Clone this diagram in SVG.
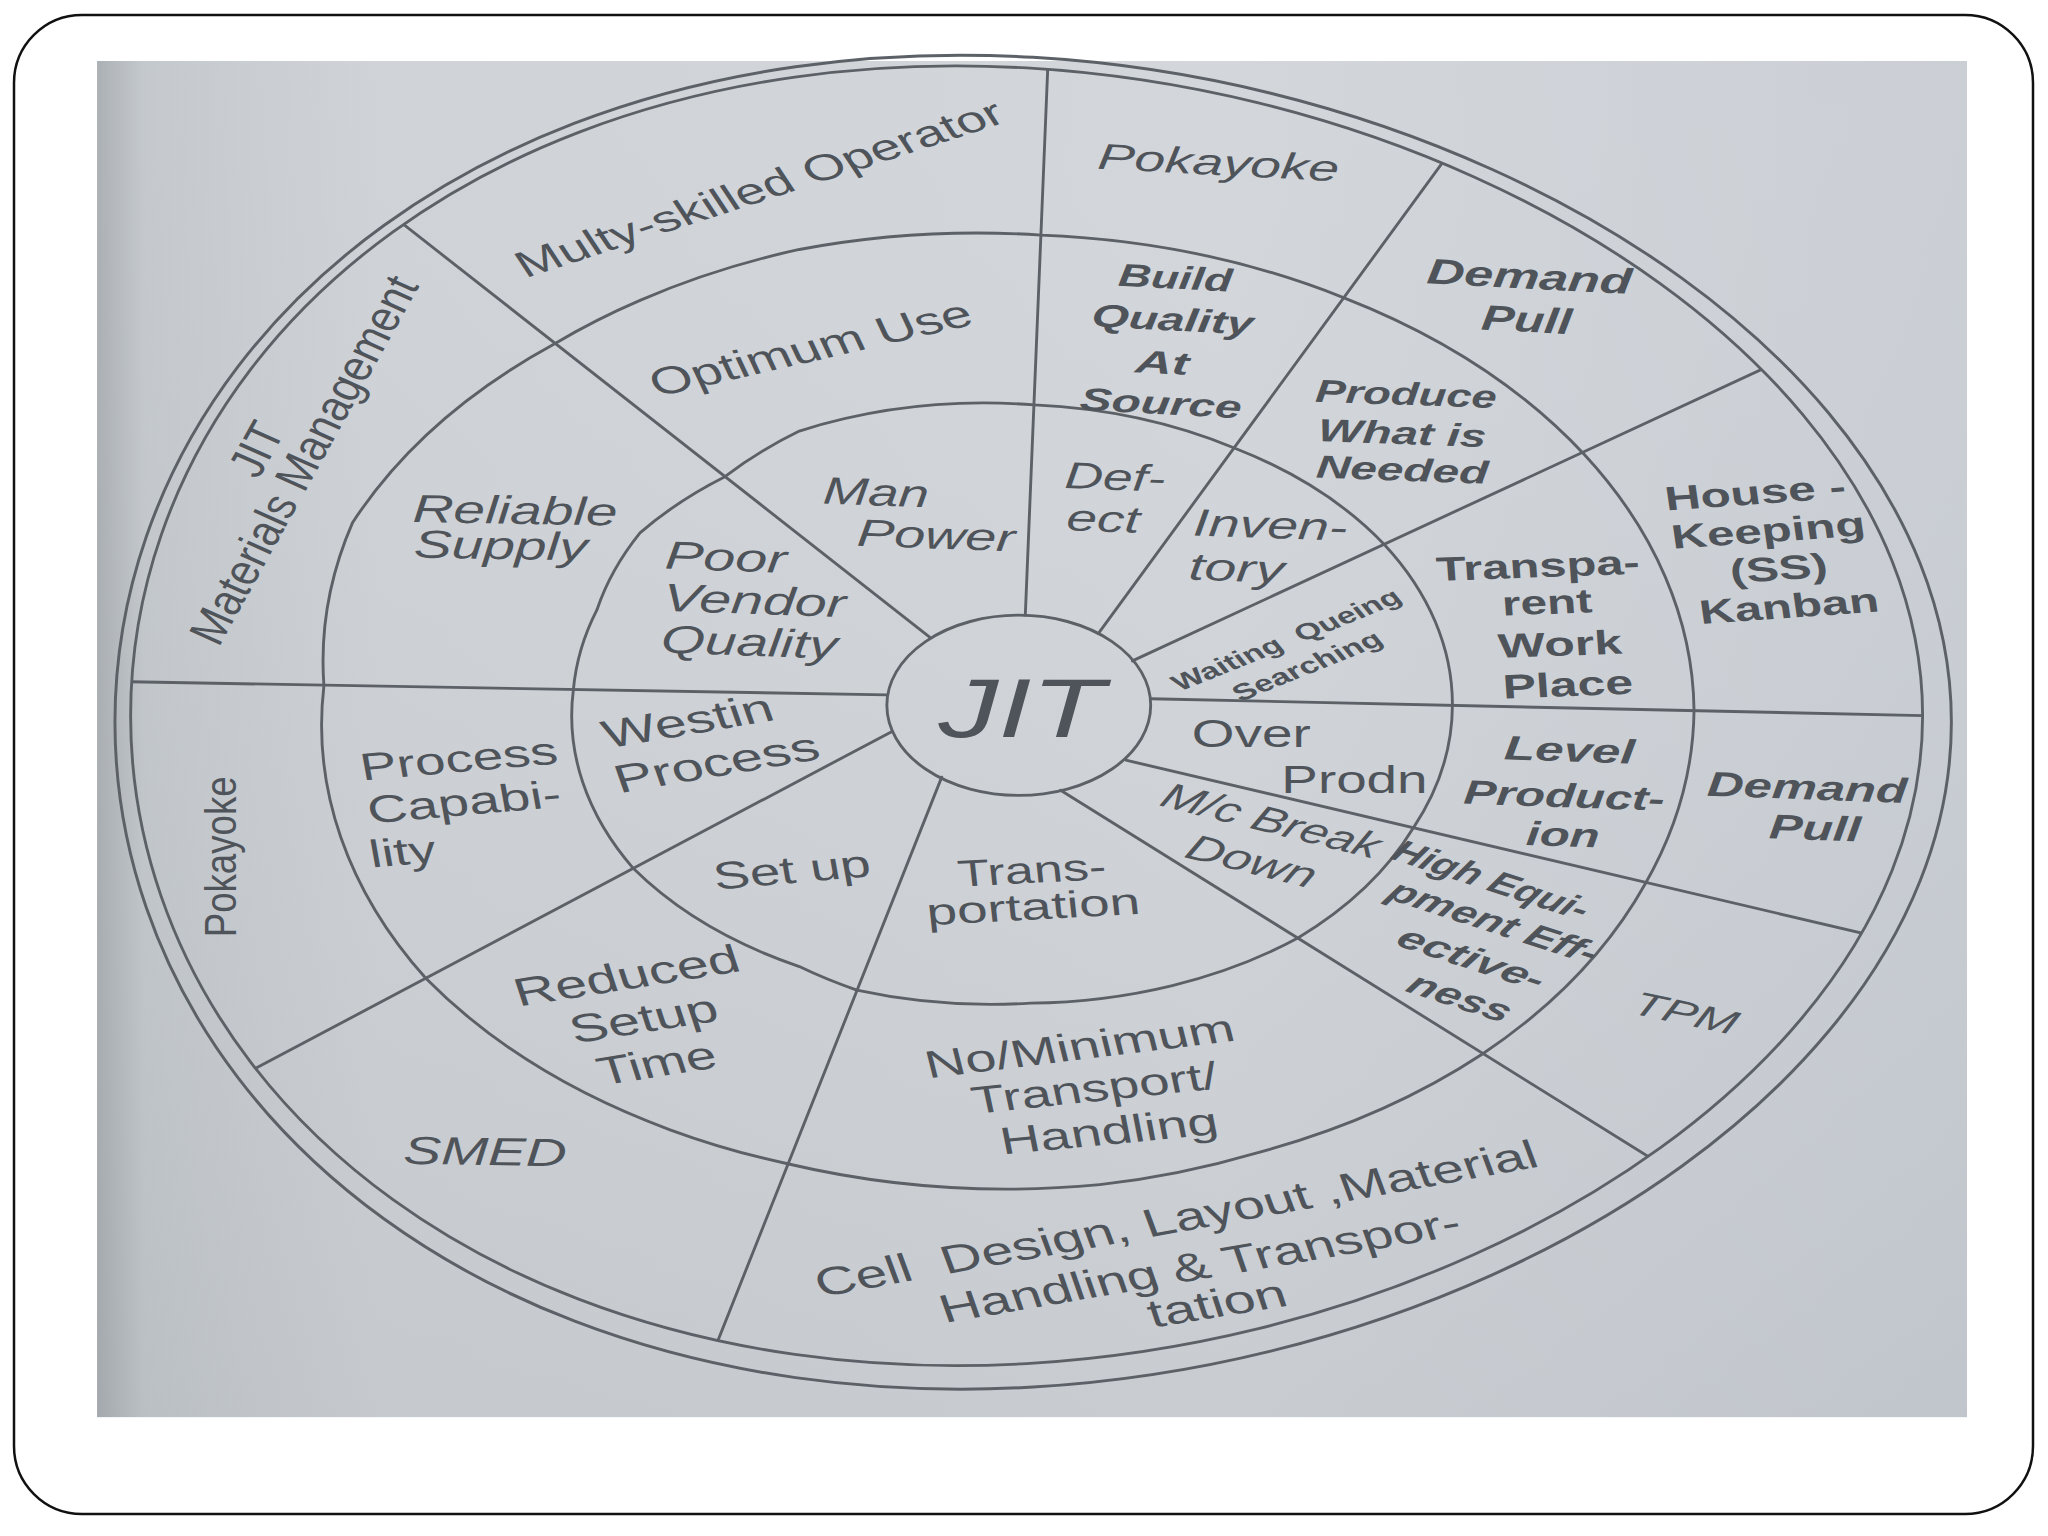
<svg xmlns="http://www.w3.org/2000/svg" width="2048" height="1536" viewBox="0 0 2048 1536">
<style>
.ln{fill:none;stroke:#5c6167;stroke-width:2.2;stroke-linejoin:round;stroke-linecap:round}
.t{font-family:"Liberation Sans",Arial,Helvetica,sans-serif;fill:#4f545a;text-anchor:middle}
.i{font-style:italic}
.b{font-weight:bold}
.pre{white-space:pre}
</style>
<defs>
<linearGradient id="bg" x1="0" y1="0" x2="1" y2="0">
<stop offset="0" stop-color="#a7acb1"/>
<stop offset="0.025" stop-color="#c1c6cb"/>
<stop offset="0.15" stop-color="#cdd1d6"/>
<stop offset="0.6" stop-color="#d1d5da"/>
<stop offset="1" stop-color="#c8cdd3"/>
</linearGradient>
<linearGradient id="shade" x1="0" y1="0" x2="0" y2="1">
<stop offset="0" stop-color="#ffffff" stop-opacity="0.05"/>
<stop offset="1" stop-color="#8a9096" stop-opacity="0.12"/>
</linearGradient>
<path id="ringpath" d="M1472 548 C1472 587.8 1464.1 627.7 1448.6 666.5 C1433.1 705.3 1410 743.1 1380.1 778.8 C1350.2 814.6 1313.4 848.3 1271.1 878.9 C1228.8 909.5 1180.9 936.9 1129 960.3 C1077.2 983.7 1021.3 1003 963.5 1017.2 C905.7 1031.4 845.9 1040.5 786 1044 C726.1 1047.5 666.3 1045.2 608.5 1037 C550.7 1028.8 494.9 1014.6 443 994.7 C391.2 974.8 343.2 949.1 300.9 918.5 C258.6 887.9 221.8 852.4 191.9 813.2 C162 774 138.9 731.1 123.4 686.3 C107.9 641.5 100 594.7 100 548 C100 501.3 107.9 454.5 123.4 409.7 C138.9 364.9 162 322 191.9 282.8 C221.8 243.6 258.6 208.1 300.9 177.5 C343.2 146.9 391.2 121.2 443 101.3 C494.9 81.4 550.7 67.2 608.5 59 C666.3 50.8 726.1 48.5 786 52 C845.9 55.5 905.7 64.6 963.5 78.8 C1021.3 93 1077.2 112.3 1129 135.7 C1180.9 159.1 1228.8 186.5 1271.1 217.1 C1313.4 247.7 1350.2 281.5 1380.1 317.2 C1410 353 1433.1 390.7 1448.6 429.5 C1464.1 468.3 1472 508.2 1472 548 Z"/>
<clipPath id="inside">
<use href="#ringpath"/>
</clipPath>
</defs>
<rect x="0" y="0" width="2048" height="1536" fill="#ffffff"/>
<rect x="14" y="15" width="2019" height="1499" rx="68" ry="68" fill="none" stroke="#111" stroke-width="2.5"/>
<g transform="scale(1.306122)">
<rect x="74.3" y="46.7" width="1431.7" height="1038.3" fill="url(#bg)"/>
<rect x="74.3" y="46.7" width="1431.7" height="1038.3" fill="url(#shade)"/>

<g id="rings" class="ln">
<use id="ring-outer-b" href="#ringpath"/>
<use id="ring-outer-a" href="#ringpath" transform="matrix(1.0248 0 0 1.0263 -14.48 -9.5)"/>
<path id="ring-middle" d="M425 263 A525 366 0 0 1 490 230 A525 366 0 0 1 612 191 A525 366 0 0 1 797 180 A525 366 0 0 1 1029 228 A525 366 0 0 1 1213 348 A525 366 0 0 1 1297 544 A525 366 0 0 1 1260 676 A525 366 0 0 1 1135 807 A525 366 0 0 1 961 883 A525 366 0 0 1 842 907 A525 366 0 0 1 603 891 A525 366 0 0 1 513 865 A525 366 0 0 1 326 749 A525 366 0 0 1 248 525 A525 366 0 0 1 270 400 A525 366 0 0 1 425 263 Z"/>
<path id="ring-inner" d="M555 365 A337 229 0 0 1 612 330 A337 229 0 0 1 792 310 A337 229 0 0 1 945 343 A337 229 0 0 1 1060 417 A337 229 0 0 1 1112 540 A337 229 0 0 1 1082 634 A337 229 0 0 1 994 718 A337 229 0 0 1 789 768 A337 229 0 0 1 656 758 A337 229 0 0 1 612 740 A337 229 0 0 1 485 665 A337 229 0 0 1 439 528 A337 229 0 0 1 457 467 A337 229 0 0 1 490 408 A337 229 0 0 1 555 365 Z"/>
</g>

<g id="connectors" class="ln" clip-path="url(#inside)">
<line x1="785" y1="471" x2="803.5" y2="20"/>
<line x1="841" y1="485" x2="1138.9" y2="77.3"/>
<line x1="867" y1="506" x2="1415.8" y2="251.8"/>
<line x1="881" y1="535" x2="1520.4" y2="549"/>
<line x1="862" y1="582" x2="1484.6" y2="728.3"/>
<line x1="812" y1="605" x2="1311.4" y2="916.3"/>
<line x1="721" y1="595" x2="534" y2="1065.8"/>
<line x1="683" y1="560" x2="138.5" y2="848.2"/>
<line x1="679" y1="532" x2="53.7" y2="521.2"/>
<line x1="712" y1="488" x2="259.5" y2="133"/>
</g>

<g id="node-jit">
<ellipse class="ln" cx="780" cy="540" rx="101" ry="69"/>
<text class="t i" font-size="92" transform="translate(782 564) scale(1 .7)" textLength="127" lengthAdjust="spacingAndGlyphs">JIT</text>
</g>

<!-- inner band -->
<g id="node-man-power">
<text class="t i" font-size="42" transform="translate(670 387) scale(1 .7) rotate(2.9)" textLength="81" lengthAdjust="spacingAndGlyphs">Man</text>
<text class="t i" font-size="42" transform="translate(716 420) scale(1 .7) rotate(2.9)" textLength="121" lengthAdjust="spacingAndGlyphs">Power</text>
</g>
<g id="node-defect">
<text class="t i" font-size="41" transform="translate(853 375) scale(1 .7) rotate(2.9)" textLength="77" lengthAdjust="spacingAndGlyphs">Def-</text>
<text class="t i" font-size="41" transform="translate(844 407) scale(1 .7) rotate(2.9)" textLength="56" lengthAdjust="spacingAndGlyphs">ect</text>
</g>
<g id="node-inventory">
<text class="t i" font-size="42" transform="translate(972 412) scale(1 .7) rotate(2.9)" textLength="118" lengthAdjust="spacingAndGlyphs">Inven-</text>
<text class="t i" font-size="42" transform="translate(946 445) scale(1 .7) rotate(2.9)" textLength="73" lengthAdjust="spacingAndGlyphs">tory</text>
</g>
<g id="node-waiting">
<text class="t b pre" xml:space="preserve" font-size="25" transform="translate(989 495) scale(1 .7) rotate(-30)" textLength="198" lengthAdjust="spacingAndGlyphs">Waiting  Queing</text>
<text class="t b" font-size="25" transform="translate(1005 515) scale(1 .7) rotate(-30)" textLength="128" lengthAdjust="spacingAndGlyphs">Searching</text>
</g>
<g id="node-over-prodn">
<text class="t" font-size="42" transform="translate(958 572) scale(1 .7)" textLength="91" lengthAdjust="spacingAndGlyphs">Over</text>
<text class="t" font-size="42" transform="translate(1037 607) scale(1 .7)" textLength="112" lengthAdjust="spacingAndGlyphs">Prodn</text>
</g>
<g id="node-mc-breakdown">
<text class="t i" font-size="39" transform="translate(969 637) scale(1 .7) rotate(19.6)" textLength="175" lengthAdjust="spacingAndGlyphs">M/c Break</text>
<text class="t i" font-size="39" transform="translate(954 668) scale(1 .7) rotate(19.6)" textLength="103" lengthAdjust="spacingAndGlyphs">Down</text>
</g>
<g id="node-transportation">
<text class="t" font-size="41" transform="translate(791 676) scale(1 .7) rotate(-4.3)" textLength="114" lengthAdjust="spacingAndGlyphs">Trans-</text>
<text class="t" font-size="41" transform="translate(792 704) scale(1 .7) rotate(-4.3)" textLength="164" lengthAdjust="spacingAndGlyphs">portation</text>
</g>
<g id="node-set-up">
<text class="t" font-size="42" transform="translate(608 676) scale(1 .7) rotate(-7.1)" textLength="121" lengthAdjust="spacingAndGlyphs">Set up</text>
</g>
<g id="node-westin-process">
<text class="t" font-size="43" transform="translate(530 562) scale(1 .7) rotate(-13.7)" textLength="133" lengthAdjust="spacingAndGlyphs">Westin</text>
<text class="t" font-size="43" transform="translate(552 594) scale(1 .7) rotate(-13.7)" textLength="160" lengthAdjust="spacingAndGlyphs">Process</text>
</g>
<g id="node-poor-vendor">
<text class="t i" font-size="43" transform="translate(555 437) scale(1 .7) rotate(2.9)" textLength="93" lengthAdjust="spacingAndGlyphs">Poor</text>
<text class="t i" font-size="43" transform="translate(577 470) scale(1 .7) rotate(2.9)" textLength="140" lengthAdjust="spacingAndGlyphs">Vendor</text>
<text class="t i" font-size="43" transform="translate(573 502) scale(1 .7) rotate(2.9)" textLength="135" lengthAdjust="spacingAndGlyphs">Quality</text>
</g>

<!-- middle band -->
<g id="node-optimum-use">
<text class="t" font-size="42" transform="translate(625 276) scale(1 .7) rotate(-18.1)" textLength="257" lengthAdjust="spacingAndGlyphs">Optimum Use</text>
</g>
<g id="node-build-quality">
<text class="t b i" font-size="35" transform="translate(899 221) scale(1 .7) rotate(4.3)" textLength="87" lengthAdjust="spacingAndGlyphs">Build</text>
<text class="t b i" font-size="35" transform="translate(897 253) scale(1 .7) rotate(4.3)" textLength="124" lengthAdjust="spacingAndGlyphs">Quality</text>
<text class="t b i" font-size="35" transform="translate(889 286) scale(1 .7) rotate(4.3)" textLength="41" lengthAdjust="spacingAndGlyphs">At</text>
<text class="t b i" font-size="35" transform="translate(888 317) scale(1 .7) rotate(4.3)" textLength="124" lengthAdjust="spacingAndGlyphs">Source</text>
</g>
<g id="node-produce-needed">
<text class="t b i" font-size="35" transform="translate(1076 310) scale(1 .7) rotate(2.9)" textLength="139" lengthAdjust="spacingAndGlyphs">Produce</text>
<text class="t b i" font-size="35" transform="translate(1073 340) scale(1 .7) rotate(2.9)" textLength="129" lengthAdjust="spacingAndGlyphs">What is</text>
<text class="t b i" font-size="35" transform="translate(1073 368) scale(1 .7) rotate(2.9)" textLength="132" lengthAdjust="spacingAndGlyphs">Needed</text>
</g>
<g id="node-transparent-workplace">
<text class="t b" font-size="37" transform="translate(1178 442) scale(1 .7) rotate(-2.9)" textLength="156" lengthAdjust="spacingAndGlyphs">Transpa-</text>
<text class="t b" font-size="37" transform="translate(1185 470) scale(1 .7) rotate(-2.9)" textLength="69" lengthAdjust="spacingAndGlyphs">rent</text>
<text class="t b" font-size="37" transform="translate(1195 502) scale(1 .7) rotate(-2.9)" textLength="95" lengthAdjust="spacingAndGlyphs">Work</text>
<text class="t b" font-size="37" transform="translate(1201 533) scale(1 .7) rotate(-2.9)" textLength="100" lengthAdjust="spacingAndGlyphs">Place</text>
</g>
<g id="node-level-production">
<text class="t b i" font-size="37" transform="translate(1201 583) scale(1 .7) rotate(2.9)" textLength="100" lengthAdjust="spacingAndGlyphs">Level</text>
<text class="t b i" font-size="37" transform="translate(1197 618) scale(1 .7) rotate(2.9)" textLength="154" lengthAdjust="spacingAndGlyphs">Product-</text>
<text class="t b i" font-size="37" transform="translate(1196 648) scale(1 .7) rotate(2.9)" textLength="56" lengthAdjust="spacingAndGlyphs">ion</text>
</g>
<g id="node-high-equipment">
<text class="t b i" font-size="34" transform="translate(1137 681) scale(1 .7) rotate(24.9)" textLength="162" lengthAdjust="spacingAndGlyphs">High Equi-</text>
<text class="t b i" font-size="34" transform="translate(1139 713) scale(1 .7) rotate(24.9)" textLength="173" lengthAdjust="spacingAndGlyphs">pment Eff-</text>
<text class="t b i" font-size="34" transform="translate(1122 741) scale(1 .7) rotate(24.9)" textLength="121" lengthAdjust="spacingAndGlyphs">ective-</text>
<text class="t b i" font-size="34" transform="translate(1113 771) scale(1 .7) rotate(24.9)" textLength="84" lengthAdjust="spacingAndGlyphs">ness</text>
</g>
<g id="node-no-minimum-transport">
<text class="t" font-size="42" transform="translate(829 811) scale(1 .7) rotate(-9.95)" textLength="240" lengthAdjust="spacingAndGlyphs">No/Minimum</text>
<text class="t" font-size="42" transform="translate(840 843) scale(1 .7) rotate(-8.5)" textLength="190" lengthAdjust="spacingAndGlyphs">Transport/</text>
<text class="t" font-size="42" transform="translate(851 876) scale(1 .7) rotate(-7.8)" textLength="168" lengthAdjust="spacingAndGlyphs">Handling</text>
</g>
<g id="node-reduced-setup">
<text class="t" font-size="43" transform="translate(483 757) scale(1 .7) rotate(-12.8)" textLength="176" lengthAdjust="spacingAndGlyphs">Reduced</text>
<text class="t" font-size="43" transform="translate(496 790) scale(1 .7) rotate(-12.8)" textLength="115" lengthAdjust="spacingAndGlyphs">Setup</text>
<text class="t" font-size="43" transform="translate(506 824) scale(1 .7) rotate(-12.8)" textLength="92" lengthAdjust="spacingAndGlyphs">Time</text>
</g>
<g id="node-process-capability">
<text class="t" font-size="42" transform="translate(353 591) scale(1 .7) rotate(-7.1)" textLength="152" lengthAdjust="spacingAndGlyphs">Process</text>
<text class="t" font-size="42" transform="translate(357 624) scale(1 .7) rotate(-7.1)" textLength="149" lengthAdjust="spacingAndGlyphs">Capabi-</text>
<text class="t" font-size="42" transform="translate(310 662) scale(1 .7) rotate(-7.1)" textLength="51" lengthAdjust="spacingAndGlyphs">lity</text>
</g>
<g id="node-reliable-supply">
<text class="t i" font-size="43" transform="translate(394 401) scale(1 .7) rotate(1.4)" textLength="157" lengthAdjust="spacingAndGlyphs">Reliable</text>
<text class="t i" font-size="43" transform="translate(383 428) scale(1 .7) rotate(1.4)" textLength="133" lengthAdjust="spacingAndGlyphs">Supply</text>
</g>

<!-- outer band -->
<g id="node-multy-skilled">
<text class="t" font-size="40" transform="translate(587 153) scale(1 .7) rotate(-24.9)" textLength="407" lengthAdjust="spacingAndGlyphs">Multy-skilled Operator</text>
</g>
<g id="node-pokayoke-top">
<text class="t i" font-size="40" transform="translate(932 134) scale(1 .7) rotate(4.3)" textLength="185" lengthAdjust="spacingAndGlyphs">Pokayoke</text>
</g>
<g id="node-demand-pull-top">
<text class="t b i" font-size="39" transform="translate(1170 221) scale(1 .7) rotate(4.3)" textLength="157" lengthAdjust="spacingAndGlyphs">Demand</text>
<text class="t b i" font-size="39" transform="translate(1168 254) scale(1 .7) rotate(4.3)" textLength="69" lengthAdjust="spacingAndGlyphs">Pull</text>
</g>
<g id="node-house-keeping">
<text class="t b" font-size="37" transform="translate(1345 386) scale(1 .7) rotate(-5.7)" textLength="139" lengthAdjust="spacingAndGlyphs">House -</text>
<text class="t b" font-size="37" transform="translate(1355 415) scale(1 .7) rotate(-5.7)" textLength="149" lengthAdjust="spacingAndGlyphs">Keeping</text>
<text class="t b" font-size="37" transform="translate(1363 444) scale(1 .7) rotate(-5.7)" textLength="75" lengthAdjust="spacingAndGlyphs">(SS)</text>
<text class="t b" font-size="37" transform="translate(1371 473) scale(1 .7) rotate(-5.7)" textLength="138" lengthAdjust="spacingAndGlyphs">Kanban</text>
</g>
<g id="node-demand-pull-right">
<text class="t b i" font-size="38" transform="translate(1383 612) scale(1 .7) rotate(2.9)" textLength="153" lengthAdjust="spacingAndGlyphs">Demand</text>
<text class="t b i" font-size="38" transform="translate(1389 643) scale(1 .7) rotate(2.9)" textLength="70" lengthAdjust="spacingAndGlyphs">Pull</text>
</g>
<g id="node-tpm">
<text class="t i" font-size="36" transform="translate(1287 784) scale(1 .7) rotate(16.9)" textLength="82" lengthAdjust="spacingAndGlyphs">TPM</text>
</g>
<g id="node-cell-design">
<text class="t pre" xml:space="preserve" font-size="43" transform="translate(904 943) scale(1 .7) rotate(-14.55)" textLength="570" lengthAdjust="spacingAndGlyphs">Cell  Design, Layout ,Material</text>
<text class="t" font-size="43" transform="translate(922 979) scale(1 .7) rotate(-13.7)" textLength="409" lengthAdjust="spacingAndGlyphs">Handling &amp; Transpor-</text>
<text class="t" font-size="43" transform="translate(935 1008) scale(1 .7) rotate(-13)" textLength="108" lengthAdjust="spacingAndGlyphs">tation</text>
</g>
<g id="node-smed">
<text class="t i" font-size="43" transform="translate(371 892) scale(1 .7) rotate(1.4)" textLength="125" lengthAdjust="spacingAndGlyphs">SMED</text>
</g>
<g id="node-pokayoke-left">
<text class="t" font-size="34" transform="translate(181 656) scale(1 .7) rotate(-90)" textLength="176" lengthAdjust="spacingAndGlyphs">Pokayoke</text>
</g>
<g id="node-jit-materials">
<text class="t i" font-size="40" transform="translate(245 356) scale(1 .7) rotate(-68.8)" textLength="57" lengthAdjust="spacingAndGlyphs" x="-2" y="-38">JIT</text>
<text class="t i" font-size="40" transform="translate(245 356) scale(1 .7) rotate(-68.8)" textLength="425" lengthAdjust="spacingAndGlyphs">Materials Management</text>
</g>
</g>
</svg>
